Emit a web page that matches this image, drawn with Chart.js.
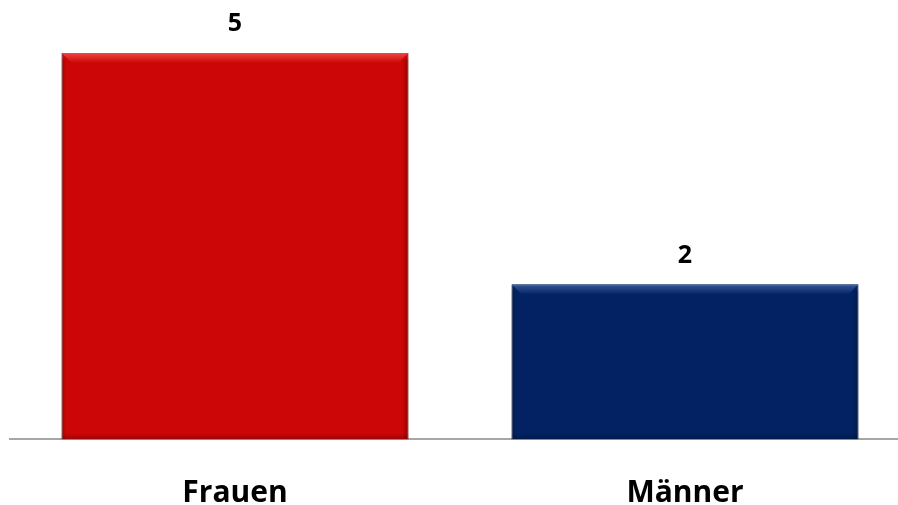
<!DOCTYPE html>
<html>
<head>
<meta charset="utf-8">
<script src="https://cdn.jsdelivr.net/npm/chart.js@4/dist/chart.umd.min.js"></script>
</head>
<body style="margin:0;background:#fff;overflow:hidden">
  <div style="width:898px;height:505px;overflow:hidden">
    <canvas id="myChart" width="910" height="505"></canvas>
  </div>
  <script>
    const categories = ['Frauen', 'Männer'];
    const values = [5, 2];
    const barColors = ['#cc0606', '#032263'];
    const bevelColors = ['#f04444', '#34589a'];

    // value labels above the bars
    const valueLabels = {
      id: 'valueLabels',
      afterDatasetsDraw(chart) {
        const ctx = chart.ctx;
        const meta = chart.getDatasetMeta(0);
        ctx.save();
        ctx.font = 'bold 25px "Open Sans"';
        ctx.fillStyle = '#000';
        ctx.textAlign = 'center';
        ctx.textBaseline = 'middle';
        meta.data.forEach((bar, i) => {
          ctx.fillText(values[i], bar.x, bar.y - 29);
        });
        ctx.restore();
      }
    };

    // bevel look of the bars
    const bevel = {
      id: 'bevel',
      afterDatasetDraw(chart) {
        const ctx = chart.ctx;
        const meta = chart.getDatasetMeta(0);
        const b = 10;
        meta.data.forEach((bar, i) => {
          const l = bar.x - bar.width / 2, r = bar.x + bar.width / 2;
          const t = bar.y, btm = bar.base;
          ctx.save();
          // top bevel
          let g = ctx.createLinearGradient(0, t, 0, t + b);
          g.addColorStop(0, bevelColors[i]);
          g.addColorStop(1, barColors[i]);
          ctx.fillStyle = g;
          ctx.beginPath();
          ctx.moveTo(l, t); ctx.lineTo(r, t); ctx.lineTo(r - b, t + b); ctx.lineTo(l + b, t + b);
          ctx.closePath(); ctx.fill();
          // right side shade
          g = ctx.createLinearGradient(r - 6, 0, r, 0);
          g.addColorStop(0, 'rgba(0,0,0,0)');
          g.addColorStop(1, 'rgba(0,0,0,0.3)');
          ctx.fillStyle = g;
          ctx.fillRect(r - 6, t + 6, 6, btm - t - 6);
          // left side shade
          g = ctx.createLinearGradient(l, 0, l + 5, 0);
          g.addColorStop(0, 'rgba(0,0,0,0.18)');
          g.addColorStop(1, 'rgba(0,0,0,0)');
          ctx.fillStyle = g;
          ctx.fillRect(l, t + 6, 5, btm - t - 6);
          // bottom shade
          g = ctx.createLinearGradient(0, btm - 6, 0, btm);
          g.addColorStop(0, 'rgba(0,0,0,0)');
          g.addColorStop(1, 'rgba(0,0,0,0.22)');
          ctx.fillStyle = g;
          ctx.fillRect(l, btm - 6, r - l, 6);
          // thin outline
          ctx.strokeStyle = 'rgba(120,120,120,0.6)';
          ctx.lineWidth = 1;
          ctx.strokeRect(l + 0.5, t + 0.5, r - l - 1, btm - t);
          ctx.restore();
        });
      }
    };

    new Chart('myChart', {
      type: 'bar',
      data: {
        labels: categories,
        datasets: [{
          data: values,
          backgroundColor: barColors,
          borderWidth: 0,
          categoryPercentage: 1,
          barPercentage: 0.77
        }]
      },
      options: {
        responsive: false,
        animation: false,
        layout: { padding: { left: 10, right: 0, top: 53, bottom: -42 } },
        plugins: {
          legend: { display: false },
          tooltip: { enabled: false }
        },
        scales: {
          y: {
            display: false,
            min: 0,
            max: 5
          },
          x: {
            grid: { display: false, drawTicks: false },
            border: { display: true, color: '#a6a6a6', width: 2 },
            ticks: {
              color: '#000',
              padding: 36,
              font: { family: 'Open Sans', size: 30, weight: 'bold' }
            }
          }
        }
      },
      plugins: [bevel, valueLabels]
    });
  </script>
</body>
</html>
